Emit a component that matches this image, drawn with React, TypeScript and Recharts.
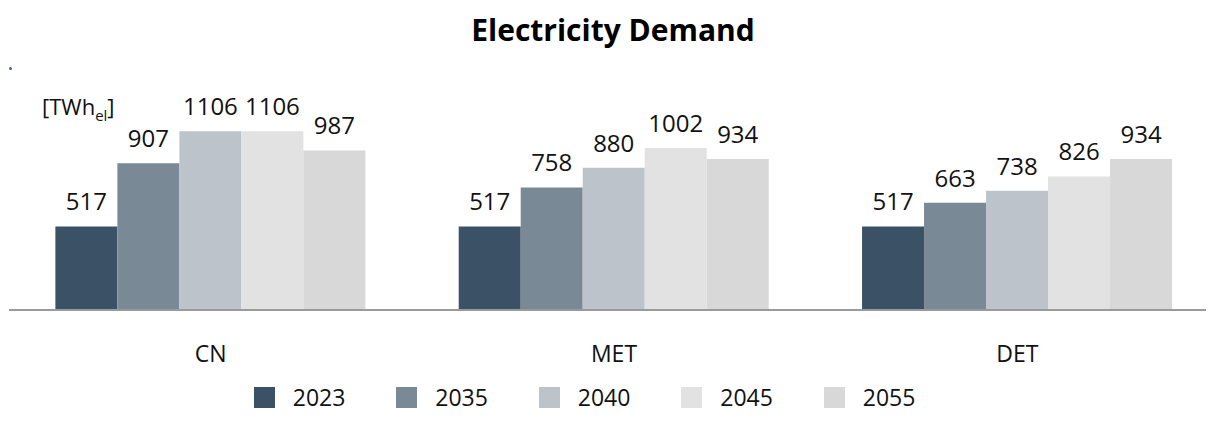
import React from "react";
import { BarChart, Bar, XAxis, YAxis, LabelList, Legend } from "recharts";

const categories = ["CN", "MET", "DET"];
const years = ["2023", "2035", "2040", "2045", "2055"];
const v2023 = [517, 517, 517];
const v2035 = [907, 758, 663];
const v2040 = [1106, 880, 738];
const v2045 = [1106, 1002, 826];
const v2055 = [987, 934, 934];
const seriesValues = [v2023, v2035, v2040, v2045, v2055];
const colors = ["#3b5166", "#7a8996", "#bcc3ca", "#e2e2e2", "#d8d8d8"];

const data = categories.map((c, i) => {
  const row: Record<string, string | number> = { name: c };
  years.forEach((y, k) => {
    row[y] = seriesValues[k][i];
  });
  return row;
});

const FONT = "'Segoe UI', 'Open Sans', 'Noto Sans', sans-serif";

const LegendContent = () => (
  <div
    style={{
      display: "flex",
      justifyContent: "center",
      alignItems: "center",
      height: 40,
      fontFamily: FONT,
      fontSize: 23,
      color: "#111",
      paddingRight: 8,
    }}
  >
    {years.map((y, k) => (
      <div key={y} style={{ display: "flex", alignItems: "center", width: 142.5 }}>
        <span
          style={{
            display: "inline-block",
            width: 21,
            height: 21,
            background: colors[k],
            marginRight: 18,
          }}
        />
        <span>{y}</span>
      </div>
    ))}
  </div>
);

export default function App() {
  return (
    <div
      style={{
        position: "relative",
        width: 1206,
        height: 430,
        fontFamily: FONT,
        overflow: "hidden",
      }}
    >
      <div
        style={{
          position: "absolute",
          left: 0,
          width: 1210,
          top: 1,
          textAlign: "center",
          fontWeight: 700,
          fontSize: 30,
          color: "#000",
        }}
      >
        Electricity Demand
      </div>
      <div
        style={{
          position: "absolute",
          left: 1,
          top: 59,
          width: 3,
          height: 3,
          borderRadius: 2,
          background: "#3f6b9a",
        }}
      />
      <div
        style={{
          position: "absolute",
          left: 34,
          top: 83,
          fontSize: 22,
          color: "#111",
          whiteSpace: "nowrap",
        }}
      >
        [TWh<sub style={{ fontSize: 15, verticalAlign: "-6px" }}>el</sub>]
      </div>
      <BarChart
        width={1211}
        height={430}
        data={data}
        margin={{ top: 108, right: 0, bottom: 21, left: 1 }}
        barCategoryGap="11.5%"
        barGap={0}
      >
        <XAxis
          dataKey="name"
          axisLine={{ stroke: "#9a9a9a", strokeWidth: 2 }}
          tickLine={false}
          tickSize={0}
          tickMargin={36}
          height={67}
          tick={{ fontSize: 23, fill: "#111", fontFamily: FONT }}
        />
        <YAxis hide domain={[0, 1200]} />
        <Legend verticalAlign="bottom" height={40} content={<LegendContent />} />
        {years.map((y, k) => (
          <Bar key={y} dataKey={y} fill={colors[k]} isAnimationActive={false}>
            <LabelList
              dataKey={y}
              position="top"
              offset={16}
              style={{ fontSize: 24, fill: "#111", fontFamily: FONT }}
            />
          </Bar>
        ))}
      </BarChart>
    </div>
  );
}
